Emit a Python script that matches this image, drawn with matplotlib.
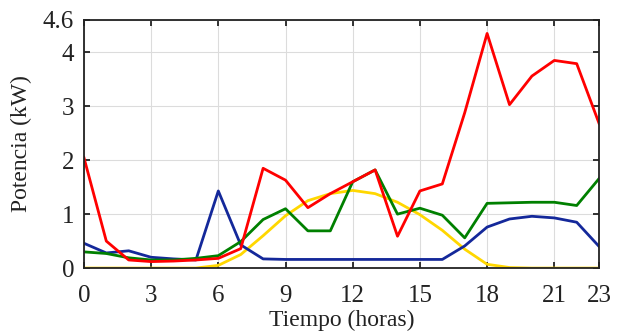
import matplotlib
matplotlib.use("Agg")
import matplotlib.pyplot as plt

hours = list(range(24))

# potencia por hora (kW)
red = [2.05, 0.50, 0.15, 0.12, 0.13, 0.15, 0.18, 0.36, 1.85, 1.63, 1.12, 1.38,
       1.60, 1.82, 0.59, 1.43, 1.56, 2.88, 4.35, 3.03, 3.56, 3.85, 3.79, 2.68]
green = [0.30, 0.27, 0.19, 0.15, 0.15, 0.18, 0.23, 0.49, 0.90, 1.10, 0.69, 0.69,
         1.60, 1.82, 1.00, 1.11, 0.98, 0.56, 1.20, 1.21, 1.22, 1.22, 1.16, 1.66]
blue = [0.46, 0.28, 0.32, 0.20, 0.17, 0.15, 1.43, 0.43, 0.17, 0.16, 0.16, 0.16,
        0.16, 0.16, 0.16, 0.16, 0.16, 0.41, 0.76, 0.91, 0.96, 0.93, 0.85, 0.40]
yellow = [0.0, 0.0, 0.0, 0.0, 0.0, 0.0, 0.05, 0.25, 0.60, 0.97, 1.25, 1.38,
          1.44, 1.38, 1.22, 0.99, 0.70, 0.35, 0.07, 0.01, 0.0, 0.0, 0.0, 0.0]

xticks = [0, 3, 6, 9, 12, 15, 18, 21, 23]
yticks = [0, 1, 2, 3, 4, 4.6]

plt.rcParams['font.family'] = ['Liberation Serif', 'DejaVu Serif']

fig = plt.figure(figsize=(6.17, 3.33), dpi=100)
ax = fig.add_axes([0.136, 0.195, 0.835, 0.745])

ax.plot(hours, yellow, color='#FFD700', lw=2)
ax.plot(hours, blue, color='#14289A', lw=2)
ax.plot(hours, green, color='#008000', lw=2)
ax.plot(hours, red, color='#FF0000', lw=2)

ax.set_xlim(0, 23)
ax.set_ylim(0, 4.6)
ax.set_xticks(xticks)
ax.set_yticks(yticks)
ax.set_yticklabels(['0', '1', '2', '3', '4', '4.6'])
ax.grid(True, color='#dcdcdc', lw=0.8)
ax.tick_params(direction='in', top=True, right=True, length=4, width=1.3,
               labelsize=18, color='#222222', labelcolor='#222222')
ax.tick_params(axis='x', pad=12)
ax.tick_params(axis='y', pad=7)
for s in ax.spines.values():
    s.set_linewidth(1.3)
    s.set_color('#222222')

ax.set_xlabel('Tiempo (horas)', fontsize=17, color='#222222', labelpad=2)
ax.set_ylabel('Potencia (kW)', fontsize=17, color='#222222', labelpad=8)

fig.savefig('out.png', dpi=100)
